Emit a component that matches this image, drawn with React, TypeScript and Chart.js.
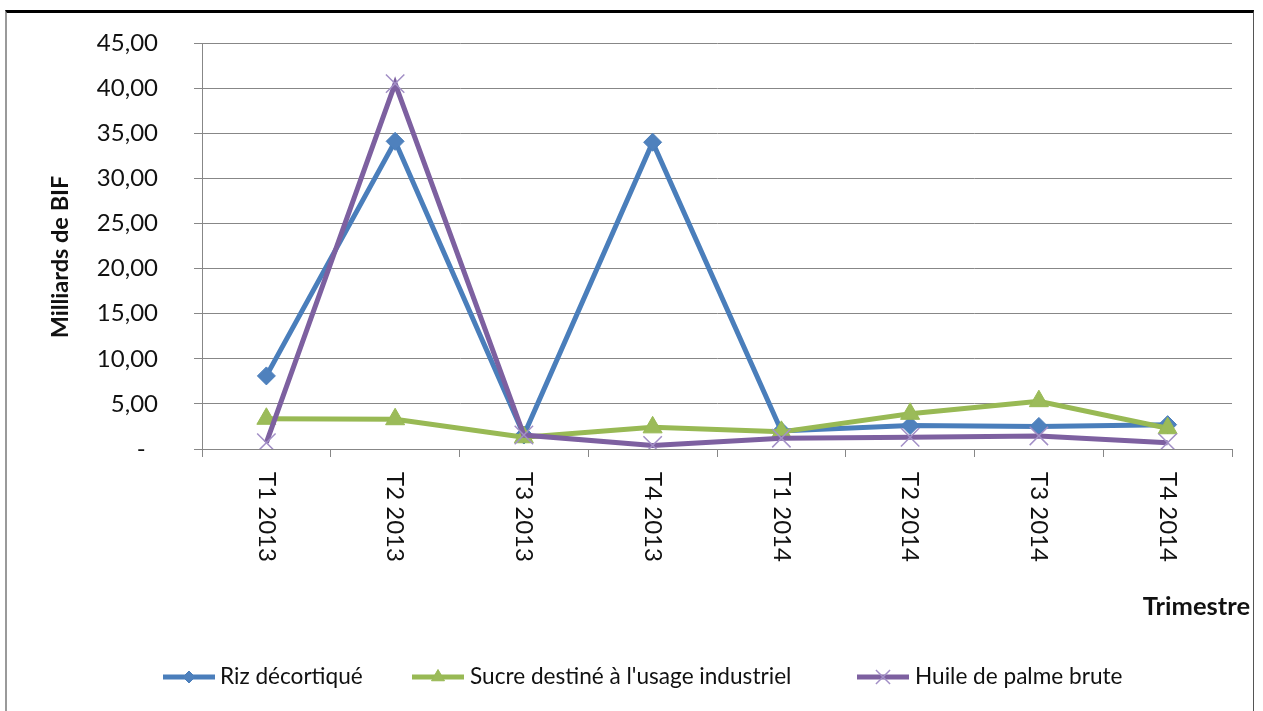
import React, { useEffect, useRef } from 'react';
import { Chart, registerables } from 'chart.js';
import { drawPoint } from 'chart.js/helpers';

Chart.register(...registerables);

const categories = ['T1 2013', 'T2 2013', 'T3 2013', 'T4 2013', 'T1 2014', 'T2 2014', 'T3 2014', 'T4 2014'];
const rizValues = [8.1, 34.1, 1.55, 34.0, 2.0, 2.6, 2.5, 2.7];
const sucreValues = [3.35, 3.3, 1.3, 2.4, 1.9, 3.9, 5.3, 2.3];
const huileValues = [0.7, 40.5, 1.55, 0.4, 1.2, 1.3, 1.45, 0.7];
const seriesNames = ['Riz décortiqué', "Sucre destiné à l'usage industriel", 'Huile de palme brute'];
const yAxisTitle = 'Milliards de BIF';
const xAxisTitle = 'Trimestre';

const FONT = 'Lato, "Noto Sans", sans-serif';
const TEXT = '#111111';
const GRID = '#878787';

const legendLayout = [
  { lineX: 163, textX: 220, markerR: 6 },
  { lineX: 412, textX: 470, markerR: 7.5 },
  { lineX: 857, textX: 915, markerR: 10 },
];

const customPlugin = {
  id: 'customDraw',
  afterDraw(chart: any) {
    const ctx = chart.ctx;
    const xs = chart.scales.x;
    ctx.save();
    // x category labels, rotated clockwise
    ctx.fillStyle = TEXT;
    ctx.font = `24px ${FONT}`;
    ctx.textAlign = 'left';
    ctx.textBaseline = 'middle';
    categories.forEach((lab, i) => {
      const px = xs.getPixelForValue(i);
      ctx.save();
      ctx.translate(px, 472);
      ctx.rotate(Math.PI / 2);
      ctx.fillText(lab, 0, 0);
      ctx.restore();
    });
    // x axis title
    ctx.font = `bold 25.5px ${FONT}`;
    ctx.textAlign = 'right';
    ctx.textBaseline = 'alphabetic';
    ctx.fillText(xAxisTitle, 1250, 615);
    // y axis title
    ctx.font = `bold 23.5px ${FONT}`;
    ctx.save();
    ctx.translate(68, 257);
    ctx.rotate(-Math.PI / 2);
    ctx.textAlign = 'center';
    ctx.textBaseline = 'alphabetic';
    ctx.fillText(yAxisTitle, 0, 0);
    ctx.restore();
    // legend
    const ly = 677;
    chart.data.datasets.forEach((ds: any, i: number) => {
      const L = legendLayout[i];
      ctx.strokeStyle = ds.borderColor;
      ctx.lineWidth = 5;
      ctx.lineCap = 'butt';
      ctx.beginPath();
      ctx.moveTo(L.lineX, ly);
      ctx.lineTo(L.lineX + 52, ly);
      ctx.stroke();
      ctx.fillStyle = ds.pointBackgroundColor;
      ctx.strokeStyle = ds.pointBorderColor;
      ctx.lineWidth = ds.pointBorderWidth;
      drawPoint(ctx, { pointStyle: ds.pointStyle, radius: L.markerR, rotation: 0, borderWidth: ds.pointBorderWidth } as any, L.lineX + 26, ly);
      ctx.fillStyle = TEXT;
      ctx.font = `22.6px ${FONT}`;
      ctx.textAlign = 'left';
      ctx.textBaseline = 'alphabetic';
      ctx.fillText(ds.label, L.textX, 684);
    });
    ctx.restore();
  },
};

export default function App() {
  const ref = useRef<HTMLCanvasElement | null>(null);
  useEffect(() => {
    if (!ref.current) return;
    const chart = new Chart(ref.current, {
      type: 'line',
      data: {
        labels: categories,
        datasets: [
          {
            label: seriesNames[0],
            data: rizValues,
            borderColor: '#4A7EBB',
            backgroundColor: '#4F81BD',
            borderWidth: 5,
            pointStyle: 'rectRot',
            pointRadius: 9,
            pointBackgroundColor: '#4F81BD',
            pointBorderColor: '#4A7EBB',
            pointBorderWidth: 1,
            tension: 0,
            order: 2,
          },
          {
            label: seriesNames[1],
            data: sucreValues,
            borderColor: '#98B954',
            backgroundColor: '#9BBB59',
            borderWidth: 5,
            pointStyle: 'triangle',
            pointRadius: 11,
            pointBackgroundColor: '#9BBB59',
            pointBorderColor: '#98B954',
            pointBorderWidth: 1,
            tension: 0,
            order: 1,
          },
          {
            label: seriesNames[2],
            data: huileValues,
            borderColor: '#7D60A0',
            backgroundColor: '#A28FC6',
            borderWidth: 5,
            pointStyle: 'crossRot',
            pointRadius: 13,
            pointBackgroundColor: '#A28FC6',
            pointBorderColor: '#A28FC6',
            pointBorderWidth: 1.5,
            tension: 0,
            order: 0,
          },
        ],
      } as any,
      options: {
        animation: false,
        responsive: false,
        devicePixelRatio: 1,
        layout: { autoPadding: false, padding: { left: 0, right: 31, top: 43, bottom: 0 } },
        plugins: { legend: { display: false }, tooltip: { enabled: false } },
        scales: {
          x: {
            offset: true,
            ticks: { display: false },
            grid: { offset: true, drawOnChartArea: false, drawTicks: true, tickLength: 8, color: GRID },
            border: { color: GRID, width: 1 },
            afterFit: (s: any) => { s.height = 262; s.paddingLeft = 0; s.paddingRight = 0; },
          },
          y: {
            min: 0,
            max: 45,
            ticks: {
              stepSize: 5,
              padding: 36,
              color: TEXT,
              font: { family: FONT, size: 24 },
              callback: (v: any) => (Number(v) === 0 ? '-  ' : Number(v).toFixed(2).replace('.', ',')),
            },
            grid: { color: GRID, lineWidth: 1, tickLength: 8, drawTicks: true },
            border: { color: GRID, width: 1 },
            afterFit: (s: any) => { s.width = 202; s.paddingTop = 0; s.paddingBottom = 0; },
          },
        },
      } as any,
      plugins: [customPlugin],
    });
    return () => chart.destroy();
  }, []);
  return (
    <div style={{ position: 'absolute', left: 0, top: 0, width: 1263, height: 711, background: '#fff', overflow: 'hidden' }}>
      <canvas ref={ref} width={1263} height={711} style={{ display: 'block', width: 1263, height: 711 }} />
      <div
        style={{
          position: 'absolute',
          left: 5,
          top: 10,
          width: 1246,
          height: 720,
          borderTop: '3px solid #000',
          borderLeft: '2px solid #9a9a9a',
          borderRight: '1px solid #555',
          pointerEvents: 'none',
        }}
      />
    </div>
  );
}
